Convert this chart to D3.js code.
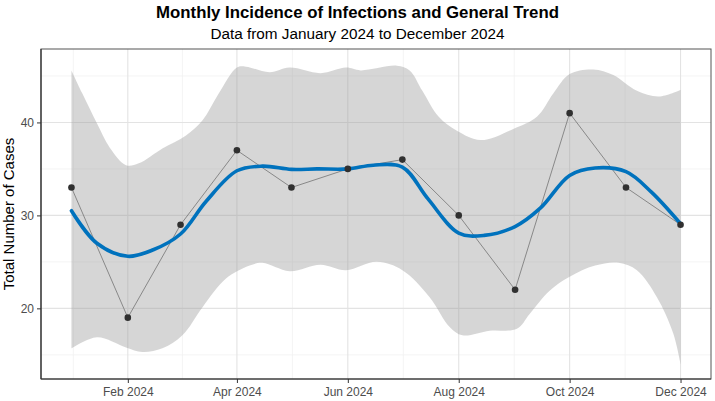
<!DOCTYPE html>
<html>
<head>
<meta charset="utf-8">
<script src="https://cdn.jsdelivr.net/npm/d3@7"></script>
<style>
  body { margin: 0; background: #fff; }
  text { font-family: "Liberation Sans", Arial, sans-serif; }
</style>
</head>
<body>
<script>
// monthly counts (first of each month)
var months = ['2024-01-01','2024-02-01','2024-03-01','2024-04-01','2024-05-01','2024-06-01',
              '2024-07-01','2024-08-01','2024-09-01','2024-10-01','2024-11-01','2024-12-01'];
var cases = [33, 19, 29, 37, 33, 35, 36, 30, 22, 41, 33, 29];

// smooth trend
var trendDates = ['2024-01-01','2024-01-15','2024-02-01','2024-02-15','2024-03-01','2024-03-15',
                  '2024-04-01','2024-04-15','2024-05-01','2024-05-15','2024-06-01','2024-06-15',
                  '2024-07-01','2024-07-15','2024-08-01','2024-08-15','2024-09-01','2024-09-15',
                  '2024-10-01','2024-10-15','2024-11-01','2024-11-15','2024-12-01'];
var trendValues = [30.5, 27.0, 25.6, 26.3, 28.0, 31.5, 34.8, 35.3, 34.95, 35.0, 35.0, 35.4,
                   35.2, 31.8, 28.1, 27.85, 28.8, 30.8, 34.3, 35.1, 34.7, 32.5, 29.1];

// confidence band, upper edge
var upperDates = ['2024-01-01','2024-01-07','2024-01-15','2024-01-22','2024-01-31','2024-02-07',
                  '2024-02-20','2024-03-04','2024-03-13','2024-03-22','2024-04-01','2024-04-06',
                  '2024-04-19','2024-04-30','2024-05-17','2024-05-31','2024-06-08','2024-06-28',
                  '2024-07-05','2024-07-12','2024-07-21','2024-07-31','2024-08-13','2024-08-31',
                  '2024-09-13','2024-09-22','2024-10-01','2024-10-14','2024-10-25','2024-11-07',
                  '2024-11-19','2024-12-01'];
var upperValues = [45.6, 43.1, 39.9, 37.3, 35.4, 35.6, 37.2, 38.6, 40.2, 43.1, 45.9, 46.0,
                   45.4, 45.9, 45.3, 45.9, 45.6, 46.1, 45.6, 43.4, 40.6, 39.1, 38.1, 39.3,
                   40.6, 43.1, 45.2, 45.7, 45.1, 43.4, 42.8, 43.5];

// confidence band, lower edge
var lowerDates = ['2024-01-01','2024-01-15','2024-01-31','2024-02-09','2024-02-20','2024-03-02',
                  '2024-03-13','2024-03-26','2024-04-08','2024-04-15','2024-04-30','2024-05-17',
                  '2024-05-31','2024-06-17','2024-07-01','2024-07-16','2024-07-27','2024-08-03',
                  '2024-08-18','2024-09-02','2024-09-09','2024-09-20','2024-10-01','2024-10-15',
                  '2024-10-28','2024-11-07','2024-11-18','2024-11-27','2024-12-01'];
var lowerValues = [15.7, 16.9, 15.8, 15.3, 15.7, 17.1, 20.1, 23.2, 24.6, 24.9, 24.0, 24.7,
                   24.1, 25.0, 24.1, 21.2, 18.0, 17.1, 17.6, 17.8, 19.4, 21.9, 23.4, 24.6,
                   24.9, 24.1, 21.2, 17.3, 14.0];

var yTicks = [20, 30, 40];
var yMinor = [15, 25, 35, 45];
var xTicks = ['2024-02-01','2024-04-01','2024-06-01','2024-08-01','2024-10-01','2024-12-01'];

var title = 'Monthly Incidence of Infections and General Trend';
var subtitle = 'Data from January 2024 to December 2024';
var yLabel = 'Total Number of Cases';

function plot_it() {
    var width = 715, height = 401;
    var left = 41, right = 711, top = 49, bottom = 379;
    var parse = d3.timeParse('%Y-%m-%d');
    var fmt = d3.timeFormat('%b %Y');

    var points = months.map((m, i) => ({date: parse(m), value: cases[i]}));
    var trend = trendDates.map((m, i) => ({date: parse(m), value: trendValues[i]}));
    var upper = upperDates.map((m, i) => ({date: parse(m), value: upperValues[i]}));
    var lower = lowerDates.map((m, i) => ({date: parse(m), value: lowerValues[i]}));

    // 5% expansion like ggplot
    var first = parse(months[0]), last = parse(months[months.length - 1]);
    var span = last - first;
    var x = d3.scaleTime().domain([new Date(+first - span * 0.05), new Date(+last + span * 0.05)]).range([left, right]);
    var y = d3.scaleLinear().domain([12.4, 47.9]).range([bottom, top]);

    var svg = d3.select('body').append('svg').attr('width', width).attr('height', height);

    // grid
    var majorX = xTicks.map(parse);
    var minorX = [new Date(+majorX[0] - (majorX[1] - majorX[0]) / 2)];
    for (var i = 0; i < majorX.length - 1; i++) minorX.push(new Date((+majorX[i] + +majorX[i + 1]) / 2));

    var grid = svg.append('g');
    grid.selectAll('.minx').data(minorX).enter().append('line')
        .attr('x1', d => x(d)).attr('x2', d => x(d)).attr('y1', top).attr('y2', bottom)
        .attr('stroke', '#f1f1f1').attr('stroke-width', 0.8);
    grid.selectAll('.miny').data(yMinor).enter().append('line')
        .attr('x1', left).attr('x2', right).attr('y1', d => y(d)).attr('y2', d => y(d))
        .attr('stroke', '#f1f1f1').attr('stroke-width', 0.8);
    grid.selectAll('.majx').data(majorX).enter().append('line')
        .attr('x1', d => x(d)).attr('x2', d => x(d)).attr('y1', top).attr('y2', bottom)
        .attr('stroke', '#e3e3e3').attr('stroke-width', 1.1);
    grid.selectAll('.majy').data(yTicks).enter().append('line')
        .attr('x1', left).attr('x2', right).attr('y1', d => y(d)).attr('y2', d => y(d))
        .attr('stroke', '#e3e3e3').attr('stroke-width', 1.1);

    // ribbon
    var edge = d3.line().x(d => x(d.date)).y(d => y(d.value)).curve(d3.curveCatmullRom.alpha(0.5));
    var bandPath = edge(upper) + 'L' + edge(lower.slice().reverse()).slice(1) + 'Z';
    svg.append('path').attr('d', bandPath).attr('fill', '#999999').attr('fill-opacity', 0.4);

    // raw line
    svg.append('path').datum(points)
        .attr('d', d3.line().x(d => x(d.date)).y(d => y(d.value)))
        .attr('fill', 'none').attr('stroke', '#888888').attr('stroke-width', 1);

    // trend
    svg.append('path').datum(trend)
        .attr('d', edge)
        .attr('fill', 'none').attr('stroke', '#0072BD').attr('stroke-width', 3.6)
        .attr('stroke-linecap', 'round');

    // points
    svg.selectAll('.pt').data(points).enter().append('circle')
        .attr('cx', d => x(d.date)).attr('cy', d => y(d.value)).attr('r', 3.3)
        .attr('fill', '#303030');

    // border
    svg.append('rect').attr('x', left).attr('y', top).attr('width', right - left).attr('height', bottom - top)
        .attr('fill', 'none').attr('stroke', '#555').attr('stroke-width', 1);
    svg.append('line').attr('x1', left).attr('x2', left).attr('y1', top).attr('y2', bottom).attr('stroke', '#333').attr('stroke-width', 1.2);
    svg.append('line').attr('x1', left).attr('x2', right).attr('y1', bottom).attr('y2', bottom).attr('stroke', '#333').attr('stroke-width', 1.2);

    // axes
    var xAxis = svg.append('g').attr('transform', 'translate(0,' + bottom + ')')
        .call(d3.axisBottom(x).tickValues(majorX).tickFormat(fmt).tickSize(4).tickPadding(4));
    xAxis.select('.domain').remove();
    xAxis.selectAll('line').attr('stroke', '#333');
    xAxis.selectAll('text').attr('fill', '#4d4d4d').attr('font-size', 12)
        .style('font-family', '"Liberation Sans", Arial, sans-serif');

    var yAxis = svg.append('g').attr('transform', 'translate(' + left + ',0)')
        .call(d3.axisLeft(y).tickValues(yTicks).tickSize(4).tickPadding(3));
    yAxis.select('.domain').remove();
    yAxis.selectAll('line').attr('stroke', '#333');
    yAxis.selectAll('text').attr('fill', '#4d4d4d').attr('font-size', 12)
        .style('font-family', '"Liberation Sans", Arial, sans-serif');

    // titles
    svg.append('text').attr('x', width / 2).attr('y', 18).attr('text-anchor', 'middle')
        .attr('font-size', 16.8).attr('font-weight', 'bold').attr('fill', '#000').text(title);
    svg.append('text').attr('x', width / 2).attr('y', 39).attr('text-anchor', 'middle')
        .attr('font-size', 15.3).attr('fill', '#000').text(subtitle);
    svg.append('text').attr('transform', 'translate(14,' + ((top + bottom) / 2) + ') rotate(-90)')
        .attr('text-anchor', 'middle').attr('font-size', 15).attr('fill', '#000').text(yLabel);
}
plot_it();
</script>
</body>
</html>
